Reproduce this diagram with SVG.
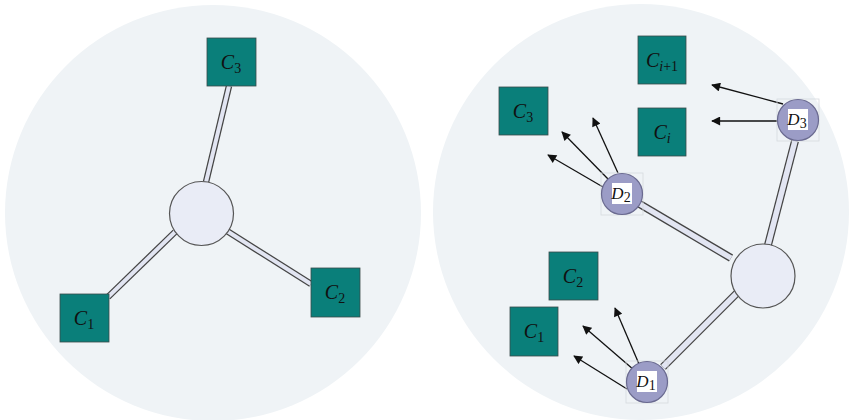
<svg xmlns="http://www.w3.org/2000/svg" width="849" height="420" viewBox="0 0 849 420">
<style>
.bg{fill:#eff3f6}
.sq{fill:#0a7f7a;stroke:#3a4a4a;stroke-width:0.8}
.lbl{font-family:"Liberation Serif",serif;font-style:italic;font-size:20px;fill:#111;text-anchor:middle}
.sub{font-size:14px;font-style:normal}
.isub{font-size:14px;font-style:italic}
.hub{fill:#e9ecf6;stroke:#555;stroke-width:1.2}
.pipeo{stroke:#444;stroke-linecap:butt;fill:none}
.pipei{stroke:#e2e5f2;stroke-linecap:butt;fill:none}
.dn{fill:#9b9cc6;stroke:#6a6a90;stroke-width:1.2}
.dbox{fill:none;stroke:#d6d9de;stroke-width:0.8}
.dl{fill:#fff}
.dlab{font-family:"Liberation Serif",serif;font-style:italic;font-size:17px;fill:#111;text-anchor:middle}
.arr{stroke:#111;stroke-width:1.3;fill:none;marker-end:url(#ah)}
</style>
<defs>
<marker id="ah" viewBox="0 0 10 10" refX="9" refY="5" markerWidth="10" markerHeight="9" markerUnits="userSpaceOnUse" orient="auto">
<path d="M0,0 L10,5 L0,10 z" fill="#111"/>
</marker>
</defs>
<circle class="bg" cx="213" cy="213" r="208"/>
<circle class="bg" cx="641" cy="212" r="208"/>
<g id="connectors">
<g>
<line class="pipeo" stroke-width="6.5" x1="229" y1="86" x2="206" y2="182"/>
<line class="pipei" stroke-width="4" x1="229" y1="86" x2="206" y2="182"/>
<line class="pipeo" stroke-width="6.5" x1="108" y1="297" x2="175" y2="232"/>
<line class="pipei" stroke-width="4" x1="108" y1="297" x2="175" y2="232"/>
<line class="pipeo" stroke-width="6.5" x1="311" y1="284" x2="227" y2="231"/>
<line class="pipei" stroke-width="4" x1="311" y1="284" x2="227" y2="231"/>
</g>
<g>
<line class="pipeo" stroke-width="8" x1="638" y1="203" x2="731" y2="258"/>
<line class="pipei" stroke-width="5.5" x1="638" y1="203" x2="731" y2="258"/>
<line class="pipeo" stroke-width="8" x1="795" y1="141" x2="768" y2="245"/>
<line class="pipei" stroke-width="5.5" x1="795" y1="141" x2="768" y2="245"/>
<line class="pipeo" stroke-width="8" x1="663" y1="367" x2="737" y2="293"/>
<line class="pipei" stroke-width="5.5" x1="663" y1="367" x2="737" y2="293"/>
</g>
<g>
<line class="arr" x1="783" y1="104" x2="712" y2="85"/>
<line class="arr" x1="777" y1="121" x2="712" y2="121"/>
<line class="arr" x1="603" y1="187" x2="548" y2="155"/>
<line class="arr" x1="608" y1="179" x2="562" y2="132"/>
<line class="arr" x1="618" y1="173" x2="593" y2="118"/>
<line class="arr" x1="627" y1="389" x2="574" y2="356"/>
<line class="arr" x1="634" y1="370" x2="583" y2="326"/>
<line class="arr" x1="639" y1="364" x2="615" y2="308"/>
</g>
</g>
<g id="L_hub"><circle class="hub" cx="201.5" cy="213.5" r="32"/></g>
<g id="L_C3"><rect class="sq" x="207" y="38" width="49" height="48"/><text class="lbl" x="231" y="69">C<tspan class="sub" dy="4">3</tspan></text></g>
<g id="L_C1"><rect class="sq" x="60" y="294" width="49" height="48"/><text class="lbl" x="84" y="325">C<tspan class="sub" dy="4">1</tspan></text></g>
<g id="L_C2"><rect class="sq" x="311" y="268" width="49" height="49"/><text class="lbl" x="335" y="299">C<tspan class="sub" dy="4">2</tspan></text></g>
<g id="R_hub"><circle class="hub" cx="763" cy="276" r="32"/></g>
<g id="R_Ci1"><rect class="sq" x="638" y="36" width="48" height="48"/><text class="lbl" x="662" y="67">C<tspan class="isub" dy="4">i</tspan><tspan class="sub">+1</tspan></text></g>
<g id="R_Ci"><rect class="sq" x="638" y="108" width="48" height="48"/><text class="lbl" x="662" y="139">C<tspan class="isub" dy="4">i</tspan></text></g>
<g id="R_C3"><rect class="sq" x="499" y="87" width="49" height="48"/><text class="lbl" x="523" y="118">C<tspan class="sub" dy="4">3</tspan></text></g>
<g id="R_C2"><rect class="sq" x="549" y="252" width="49" height="48"/><text class="lbl" x="573" y="283">C<tspan class="sub" dy="4">2</tspan></text></g>
<g id="R_C1"><rect class="sq" x="510" y="307" width="48" height="49"/><text class="lbl" x="534" y="338">C<tspan class="sub" dy="4">1</tspan></text></g>
<g id="D2"><rect class="dbox" x="601" y="173" width="42" height="42"/><circle class="dn" cx="622" cy="194" r="20.5"/><rect class="dl" x="612" y="183" width="20" height="21"/><text class="dlab" x="621" y="199">D<tspan class="sub" dy="3">2</tspan></text></g>
<g id="D3"><rect class="dbox" x="777" y="99" width="42" height="42"/><circle class="dn" cx="798" cy="120" r="20.5"/><rect class="dl" x="788" y="109" width="20" height="21"/><text class="dlab" x="797" y="125">D<tspan class="sub" dy="3">3</tspan></text></g>
<g id="D1"><rect class="dbox" x="626" y="361" width="42" height="42"/><circle class="dn" cx="647" cy="382" r="20.5"/><rect class="dl" x="637" y="371" width="20" height="21"/><text class="dlab" x="646" y="387">D<tspan class="sub" dy="3">1</tspan></text></g>
</svg>
